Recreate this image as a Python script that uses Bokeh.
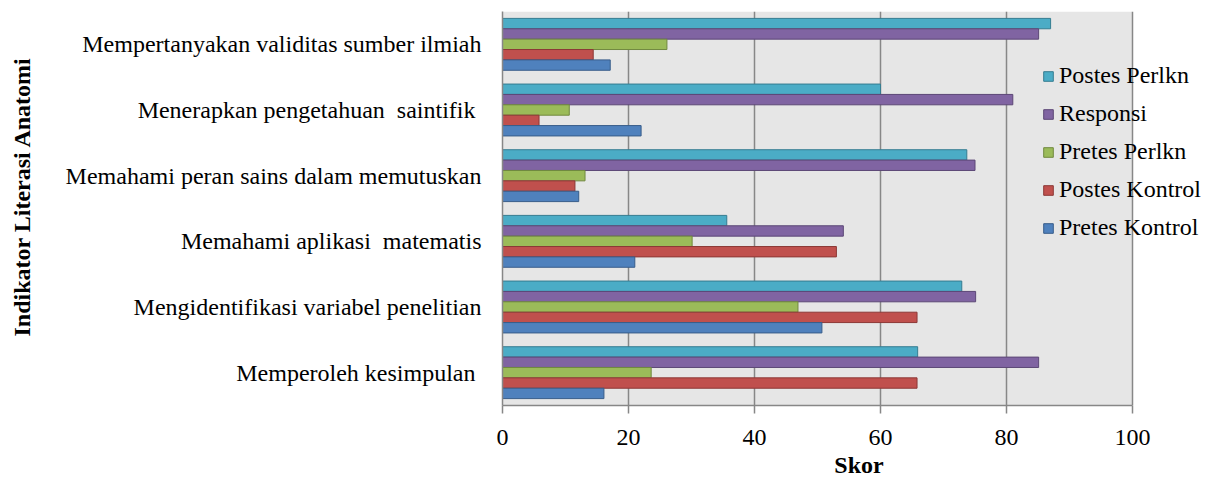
from bokeh.plotting import figure
from bokeh.models import FactorRange, ColumnDataSource, FixedTicker, BoxAnnotation
from bokeh.transform import dodge
from bokeh.embed import file_html
from bokeh.resources import INLINE

categories = [
    "Mempertanyakan validitas sumber ilmiah",
    "Menerapkan pengetahuan \u00a0saintifik ",
    "Memahami peran sains dalam memutuskan",
    "Memahami aplikasi \u00a0matematis",
    "Mengidentifikasi variabel penelitian",
    "Memperoleh kesimpulan ",
]
series_names = ["Postes Perlkn", "Responsi", "Pretes Perlkn", "Postes Kontrol", "Pretes Kontrol"]
postes_perlkn = [87.0, 60.0, 73.7, 35.6, 72.9, 65.9]
responsi = [85.1, 81.0, 75.0, 54.1, 75.1, 85.1]
pretes_perlkn = [26.1, 10.6, 13.1, 30.1, 46.9, 23.6]
postes_kontrol = [14.4, 5.8, 11.5, 53.0, 65.8, 65.8]
pretes_kontrol = [17.1, 22.0, 12.1, 21.0, 50.7, 16.1]
x_ticks = [0, 20, 40, 60, 80, 100]
x_max = 100

fill_colors = ["#4BACC6", "#8064A2", "#9BBB59", "#C0504D", "#4F81BD"]
line_colors = ["#357D91", "#5C4776", "#71893F", "#8C3836", "#385D8A"]
FONT = "Liberation Serif"
GRID = "#878787"

W, H = 1215, 480
LEFT, TOP, BOTTOM = 502, 11, 75
AXIS_PX = 630  # pixels from 0 to x_max
frame_w = W - LEFT
x_end = x_max * frame_w / AXIS_PX

source = ColumnDataSource(dict(
    cat=categories,
    s0=postes_perlkn, s1=responsi, s2=pretes_perlkn, s3=postes_kontrol, s4=pretes_kontrol,
))

p = figure(
    y_range=FactorRange(*categories[::-1]), x_range=(0, x_end),
    width=W, height=H,
    min_border_left=LEFT, min_border_right=0, min_border_top=TOP, min_border_bottom=BOTTOM,
    output_backend="svg", toolbar_location=None,
)

p.background_fill_color = "white"
p.border_fill_color = "white"
p.outline_line_color = None
p.add_layout(BoxAnnotation(left=0, right=x_max, fill_color="#e6e6e6", fill_alpha=1,
                           line_color=None, level="image"))

bar_h = 0.158
offsets = [2 * bar_h, bar_h, 0.0, -bar_h, -2 * bar_h]
for i, name in enumerate(series_names):
    p.hbar(y=dodge("cat", offsets[i], range=p.y_range), left=0, right="s%d" % i,
           height=bar_h, fill_color=fill_colors[i], line_color=line_colors[i],
           line_width=1, source=source, legend_label=name)

xa = p.xaxis[0]
xa.ticker = FixedTicker(ticks=x_ticks)
xa.bounds = (0, x_max)
xa.axis_line_color = GRID
xa.axis_line_width = 1.5
xa.major_tick_line_color = GRID
xa.major_tick_line_width = 1.5
xa.major_tick_out = 8
xa.major_tick_in = 0
xa.minor_tick_out = 0
xa.minor_tick_in = 0
xa.major_label_standoff = 16
xa.major_label_text_font = FONT
xa.major_label_text_font_size = "24px"
xa.major_label_text_color = "black"
xa.axis_label = "Skor"
xa.axis_label_standoff = 4
xa.axis_label_text_font = FONT
xa.axis_label_text_font_size = "24px"
xa.axis_label_text_font_style = "bold"
xa.axis_label_text_color = "black"

p.xgrid.ticker = xa.ticker
p.xgrid.grid_line_color = GRID
p.xgrid.grid_line_width = 1.5
p.ygrid.grid_line_color = None

ya = p.yaxis[0]
ya.axis_line_color = GRID
ya.axis_line_width = 1.5
ya.major_tick_out = 0
ya.major_tick_in = 0
ya.minor_tick_out = 0
ya.minor_tick_in = 0
ya.major_label_standoff = 21
ya.major_label_text_font = FONT
ya.major_label_text_font_size = "24px"
ya.major_label_text_color = "black"
ya.axis_label = "\u00a0\u00a0\u00a0\u00a0Indikator Literasi Anatomi"
ya.axis_label_standoff = 28
ya.axis_label_text_font = FONT
ya.axis_label_text_font_size = "24px"
ya.axis_label_text_font_style = "bold"
ya.axis_label_text_color = "black"

lg = p.legend[0]
lg.location = (540, 164)
lg.background_fill_alpha = 0
lg.border_line_color = None
lg.padding = 0
lg.margin = 0
lg.spacing = 11
lg.glyph_width = 12
lg.glyph_height = 12
lg.label_height = 24
lg.label_standoff = 5
lg.label_text_font = FONT
lg.label_text_font_size = "24px"
lg.label_text_color = "black"

open("out.html", "w").write(file_html(p, INLINE))
